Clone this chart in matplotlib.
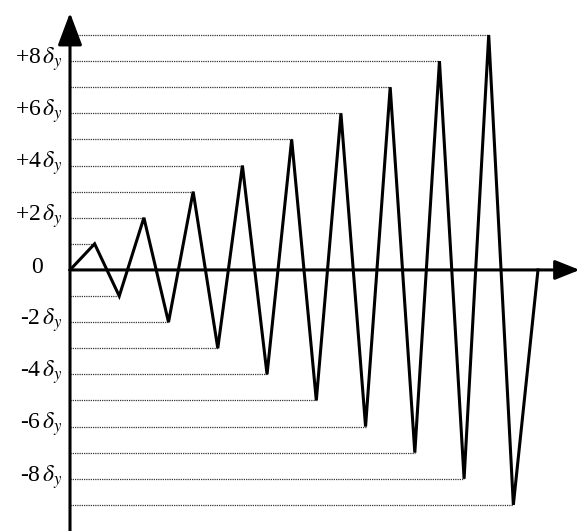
import numpy as np
import matplotlib.pyplot as plt

plt.rcParams['font.family'] = ['Liberation Serif', 'DejaVu Serif']
plt.rcParams['mathtext.fontset'] = 'stix'

# Loading protocol: displacement peaks in units of delta_y
peaks = [1, -1, 2, -2, 3, -3, 4, -4, 5, -5, 6, -6, 7, -7, 8, -8, 9, -9]
history = [0] + peaks + [0]
steps = np.arange(len(history))

tick_values = [8, 6, 4, 2, -2, -4, -6, -8]
tick_labels = [r'+8$\,\delta_y$', r'+6$\,\delta_y$', r'+4$\,\delta_y$', r'+2$\,\delta_y$',
               r'-2$\,\delta_y$', r'-4$\,\delta_y$', r'-6$\,\delta_y$', r'-8$\,\delta_y$']

fig = plt.figure(figsize=(5.8, 5.31), dpi=100)
ax = fig.add_axes([0, 0, 1, 1])
ax.set_xlim(-2.842, 20.706)
ax.set_ylim(-10.0, 10.34)
ax.axis('off')

# dotted guide lines from the axis to each peak
for i, p in enumerate(peaks):
    ax.plot([0, steps[i + 1]], [p, p], color='#333333', lw=0.9,
            linestyle=(0, (1, 0.8)), zorder=1)

# zigzag history
ax.plot(steps, history, color='black', lw=2.2, zorder=3, solid_joinstyle='miter')

# axes with arrows
ax.annotate('', xy=(0, 9.85), xytext=(0, -10.0),
            arrowprops=dict(arrowstyle='-|>,head_length=2.0,head_width=0.75',
                            color='black', lw=2.2, shrinkA=0, shrinkB=0), zorder=4)
ax.annotate('', xy=(20.69, 0), xytext=(0, 0),
            arrowprops=dict(arrowstyle='-|>,head_length=1.5,head_width=0.6',
                            color='black', lw=2.2, shrinkA=0, shrinkB=0), zorder=4)

# tick labels
for v, lab in zip(tick_values, tick_labels):
    ax.text(-0.3, v + 0.08, lab, ha='right', va='center', fontsize=17)
ax.text(-1.1, 0.08, '0', ha='right', va='center', fontsize=17)

fig.savefig('out.png', dpi=100)
